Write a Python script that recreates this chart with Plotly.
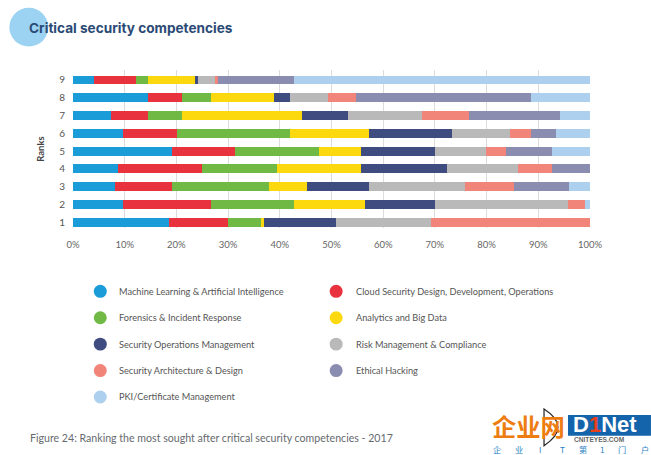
import plotly.graph_objects as go

ranks = ["1", "2", "3", "4", "5", "6", "7", "8", "9"]
names = ["Machine Learning & Artificial Intelligence", "Cloud Security Design, Development, Operations",
         "Forensics & Incident Response", "Analytics and Big Data",
         "Security Operations Management", "Risk Management & Compliance",
         "Security Architecture & Design", "Ethical Hacking", "PKI/Certificate Management"]
colors = ["#1a9cd8", "#e8333e", "#6fb944", "#fcd90f", "#3f4c80", "#b9b9b9", "#f2857a", "#8b8db0", "#acd0ee"]

ml = [18.5, 9.7, 8.1, 8.7, 19.1, 9.7, 7.4, 14.5, 4.1]
cloud = [11.4, 16.9, 11.1, 16.3, 12.3, 10.5, 7.1, 6.6, 8.1]
forensics = [6.4, 16.2, 18.7, 14.4, 16.2, 21.8, 6.6, 5.5, 2.3]
analytics = [0.7, 13.7, 7.4, 16.3, 8.1, 15.2, 23.2, 12.2, 9.0]
secops = [13.8, 13.6, 11.9, 16.7, 14.3, 16.2, 8.8, 3.2, 0.6]
risk = [18.5, 25.7, 18.6, 13.7, 9.8, 11.2, 14.5, 7.4, 3.4]
arch = [30.7, 3.3, 9.5, 6.6, 4.0, 4.0, 8.9, 5.4, 0.6]
ethical = [0, 0, 10.7, 7.3, 8.8, 4.9, 17.7, 33.8, 14.6]
pki = [0, 0.9, 4.0, 0, 7.4, 6.5, 5.8, 11.4, 57.3]
series = [ml, cloud, forensics, analytics, secops, risk, arch, ethical, pki]

W, H = 651, 455
L, R, T, B = 72.7, 590, 70, 228.5


def px(x):
    return (x - L) / (R - L)


def py(y):
    return (B - y) / (B - T)


fig = go.Figure()
for name, vals, col in zip(names, series, colors):
    fig.add_trace(go.Bar(y=ranks, x=vals, name=name, orientation="h",
                         marker=dict(color=col, line=dict(width=0)), showlegend=False))

ann, shp = [], []


def text(x, y, s, size, color, family="Lato", anchor="left", **kw):
    ann.append(dict(x=px(x), y=py(y), xref="paper", yref="paper", text=s, showarrow=False,
                    xanchor=anchor, yanchor="middle", align="left", borderpad=0,
                    font=dict(size=size, color=color, family=family), **kw))


def rect(x0, y0, x1, y1, color, kind="rect"):
    shp.append(dict(type=kind, xref="paper", yref="paper", x0=px(x0), x1=px(x1), y0=py(y1), y1=py(y0),
                    fillcolor=color, line=dict(width=0), layer="below"))


# title
rect(9, 7.5, 48, 46.5, "#9dd3f2", "circle")
text(28, 27.5, "<b>Critical security competencies</b>", 13.6, "#2b4a75", "Inter")

# legend
rows = [292, 318.5, 345, 371.5, 398]
for i, (name, col) in enumerate(zip(names, colors)):
    cx, tx = (100, 118) if i % 2 == 0 else (336, 355)
    cy = rows[i // 2]
    rect(cx - 6.5, cy - 6.5, cx + 6.5, cy + 6.5, col, "circle")
    text(tx, cy, name, 9.2, "#555555")

# caption
text(29, 439.5, "Figure 24: Ranking the most sought after critical security competencies - 2017", 10.6, "#666a6e")

# watermark
shp.append(dict(type="path", xref="paper", yref="paper",
                path=f"M {px(544)} {py(410)} Q {px(572)} {py(428)} {px(544)} {py(447)} Z",
                fillcolor="rgba(0,0,0,0)", line=dict(color="#222222", width=1.2), layer="below"))
rect(568, 416, 651, 437, "#1464ac")
text(491, 427, "<b>企业网</b>", 24.3, "#ee7d11", "Noto Sans CJK SC")
text(572, 425.5, "<b>D<span style='color:#e8401c'>1</span>Net</b>", 22, "#ffffff", "Liberation Sans")
text(573, 441, "<b>CNITEYES.COM</b>", 6.6, "#666666", "Liberation Sans")
for ch, cx in zip("企业IT第1门户", [497, 519, 540, 562, 583, 603, 622, 645]):
    text(cx, 450.5, ch, 8.2, "#2a7fc4", "Noto Sans CJK SC", anchor="center")

fig.update_layout(
    width=W, height=H, barmode="stack", bargap=0.5,
    margin=dict(l=L, r=W - R, t=T, b=H - B, pad=0, autoexpand=False),
    paper_bgcolor="white", plot_bgcolor="white",
    font=dict(family="Lato", color="#555555"),
    xaxis=dict(range=[0, 100], tick0=0, dtick=10, ticksuffix="%", showgrid=True, gridcolor="#dcdcdc",
               gridwidth=1.2, zeroline=False, showline=False, ticks="outside", ticklen=8,
               tickcolor="rgba(0,0,0,0)", tickfont=dict(size=9.5, color="#666666"), automargin=False),
    yaxis=dict(type="category", categoryorder="array", categoryarray=ranks, range=[-0.325, 8.56],
               showgrid=False, zeroline=False, showline=False, ticks="outside", ticklen=5, tickcolor="rgba(0,0,0,0)",
               tickfont=dict(size=10, color="#555555"), automargin=False,
               title=dict(text="<b>Ranks</b>", font=dict(size=9.5, color="#444444"), standoff=12)),
    annotations=ann, shapes=shp,
)
fig.write_html("out.html", config=dict(displayModeBar=False),
               post_script="document.body.style.margin='0';document.body.style.overflow='hidden';")
